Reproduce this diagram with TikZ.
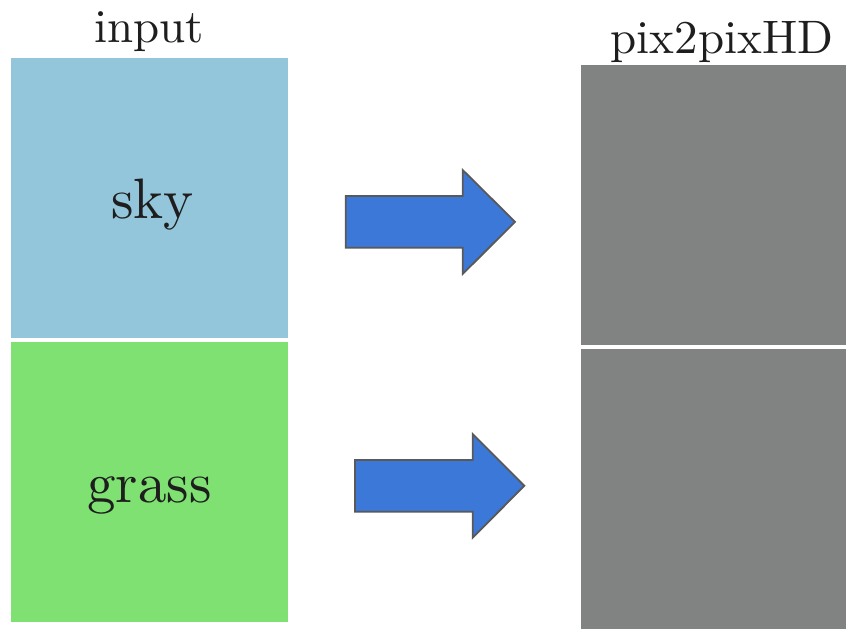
\documentclass[tikz,border=0pt]{standalone}
\usepackage{fontspec}
\setmainfont{lmroman10-regular.otf}
\definecolor{skyc}{HTML}{93C6DB}
\definecolor{grassc}{HTML}{7EE172}
\definecolor{grayc}{HTML}{808382}
\definecolor{arrowc}{HTML}{3B78D8}
\definecolor{edgec}{HTML}{595959}
\definecolor{txtc}{HTML}{1E1E1E}
\begin{document}
\begin{tikzpicture}[x=1pt,y=-1pt,
  bigtxt/.style={anchor=base,inner sep=0pt,text=txtc,font=\fontsize{57}{60}\selectfont},
  titletxt/.style={anchor=base,inner sep=0pt,text=txtc,font=\fontsize{47}{50}\selectfont},
  blockarrow/.style={fill=arrowc,draw=edgec,line width=1.8pt,line join=miter}]
\useasboundingbox (0,0) rectangle (846,629);
\fill[white] (0,0) rectangle (846,629);
% panels
\fill[skyc] (11,58) rectangle (288,338);
\fill[grassc] (11,342) rectangle (288,622);
\fill[grayc] (581,65) rectangle (846,345);
\fill[grayc] (581,349) rectangle (846,629);
% texts
\node[titletxt] (tin) at (149,42) {input};
\node[titletxt] (tout) at (722,53) {pix2pixHD};
\node[bigtxt] (tsky) at (152.5,218) {sky};
\node[bigtxt] (tgrass) at (149.5,502) {grass};
% block arrows
\draw[blockarrow] (345.7,196) -- (462.7,196) -- (462.7,170) -- (515,221.8)
  -- (462.7,274) -- (462.7,247.7) -- (345.7,247.7) -- cycle;
\draw[blockarrow] (355,460) -- (472.7,460) -- (472.7,434) -- (524.3,485.8)
  -- (472.7,537.7) -- (472.7,511.7) -- (355,511.7) -- cycle;
\end{tikzpicture}
\end{document}
